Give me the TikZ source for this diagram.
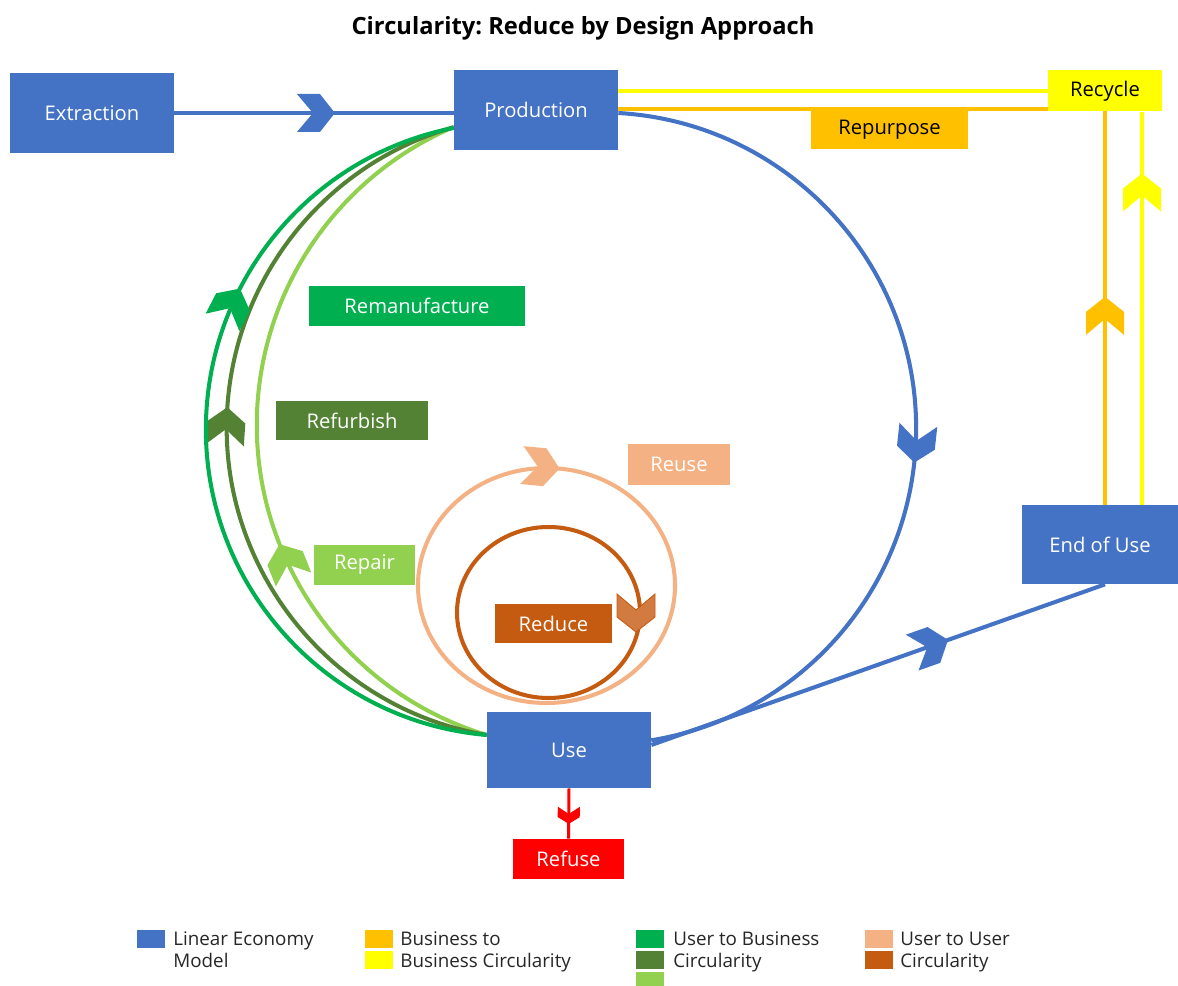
\documentclass[tikz,border=0pt]{standalone}
\usepackage{fontspec}
\setmainfont{Open Sans}
\usepackage{tikz}
\usetikzlibrary{positioning}
\usetikzlibrary{calc,decorations.markings}
\definecolor{linblue}{HTML}{4472C4}
\definecolor{bizorange}{HTML}{FFC000}
\definecolor{bizyellow}{HTML}{FFFF00}
\definecolor{ubgreen}{HTML}{00B050}
\definecolor{ubdark}{HTML}{548235}
\definecolor{ublight}{HTML}{92D050}
\definecolor{uuorange}{HTML}{F4B183}
\definecolor{uubrown}{HTML}{C55A11}
\definecolor{refred}{HTML}{FF0000}
\pgfdeclarelayer{bg}
\pgfsetlayers{bg,main}
\frenchspacing
\tikzset{
  blk/.style={fill=#1, text=white, inner sep=0pt, font=\fontsize{11.5}{13}\selectfont},
  legtxt/.style={anchor=base west, inner sep=0pt, text=black!85, font=\fontsize{10.7}{13}\selectfont},
  flow/.style={color=#1, line width=2.3pt},
  chev/.style={postaction={decorate, decoration={markings,
    mark=at position #1 with {\fill (0,0) -- (-15,-19) -- (-38,-19) -- (-22,0) -- (-38,19) -- (-15,19) -- cycle;}}}},
  smallchev/.style={postaction={decorate, decoration={markings,
    mark=at position #1 with {\fill[xscale=0.45, yscale=0.58] (0,0) -- (-15,-19) -- (-38,-19) -- (-22,0) -- (-38,19) -- (-15,19) -- cycle;}}}}
}

\begin{document}
\begin{tikzpicture}[x=0.02cm, y=-0.02cm]
\useasboundingbox (0,0) rectangle (1178,986);

% ================= Title =================
\node[font=\fontsize{13.5}{15}\selectfont\bfseries] (title) at (583,28) {Circularity: Reduce by Design Approach};

% ================= Linear economy =================
\node[blk=linblue, minimum width=3.28cm, minimum height=1.6cm] (extr) at (92,113) {Extraction};
\node[blk=linblue, minimum width=3.28cm, minimum height=1.6cm] (prod) at (536,110) {Production};
\node[blk=linblue, minimum width=3.28cm, minimum height=1.52cm] (use) at (569,750) {Use};
\node[blk=linblue, minimum width=3.12cm, minimum height=1.58cm] (eou) at (1100,544.5) {End of Use};
\node[blk=refred, minimum width=2.22cm, minimum height=0.8cm] (refuse) at (568.5,859) {Refuse};

% ================= Business to business =================
\node[blk=bizyellow, text=black, minimum width=2.28cm, minimum height=0.82cm] (recyc) at (1105,91) {Recycle};
\node[blk=bizorange, text=black, minimum width=3.14cm, minimum height=0.76cm] (repur) at (889.5,130) {Repurpose};

% ================= User to business =================
\node[blk=ubgreen, minimum width=4.32cm, minimum height=0.8cm] (reman) at (417,306) {Remanufacture};
\node[blk=ubdark, minimum width=3.04cm, minimum height=0.78cm] (refurb) at (352,420.5) {Refurbish};
\node[blk=ublight, minimum width=2.02cm, minimum height=0.8cm] (repair) at (364.5,565) {Repair};

% ================= User to user =================
\node[blk=uuorange, minimum width=2.04cm, minimum height=0.82cm] (reuse) at (679,464.5) {Reuse};
\node[blk=uubrown, minimum width=2.34cm, minimum height=0.78cm] (reduce) at (553.5,623.5) {Reduce};

\begin{pgfonlayer}{bg}
% linear flow
\draw[flow=linblue, chev=0.575] (extr.east) -- (extr.east -| prod.west);
\draw[flow=linblue, chev=0.555] (prod.east) ++(0,3) arc[start angle=-86.7, end angle=80.7, radius=316];
\draw[flow=linblue, chev=0.654] (use.east) ++(0,-5) -- ($(eou.south)+(5,0)$);
\draw[flow=refred, line width=1.7pt, smallchev=0.706] (use.south) -- (refuse.north);

% recycle / repurpose
\draw[flow=bizorange, chev=0.2355] ($(eou.north)+(5,0)$) |- ($(prod.east)+(0,-1)$);
\draw[flow=bizyellow, chev=0.843] ($(eou.north)+(42,0)$) -- ($(recyc.south)+(37,0)$);
\draw[flow=bizyellow] (recyc.west) -- (recyc.west -| prod.east);

% back to production
\draw[flow=ublight, chev=0.368] (use.west) ++(0,-15) arc[start angle=106.9, end angle=246.9, radius=324];
\draw[flow=ubdark, chev=0.544] (use.west) ++(0,-15) arc[start angle=99.6, end angle=254.2, radius=312];
\draw[flow=ubgreen, chev=0.685] (use.west) ++(0,-15) arc[start angle=94.9, end angle=258.9, radius=307];

% inner loops
\draw[flow=uuorange, chev=0.767] (546.5,585.5) ellipse[x radius=128.5, y radius=117.5];
\draw[flow=uubrown] (548.5,612.5) ellipse[x radius=91.5, y radius=85.5];
\end{pgfonlayer}

% reduce arrow head
\filldraw[fill=uubrown!80!white, draw=uubrown, line width=0.5pt]
  (636,632) -- (617,617) -- (617,594) -- (636,610) -- (655,594) -- (655,617) -- cycle;

% ================= Legend =================
\foreach \x/\y/\c in {137/930/linblue, 365/930/bizorange, 365/951/bizyellow,
  636/930/ubgreen, 636/951/ubdark, 865/930/uuorange, 865/951/uubrown}{
  \fill[\c] (\x,\y) rectangle ++(28,18);
}
\fill[ublight] (636,972) rectangle (664,986);

\foreach \x/\y/\t [count=\i] in {173/946/Linear Economy, 173/968/Model,
  400/946/Business to, 400/968/Business Circularity,
  673/946/User to Business, 673/968/Circularity,
  900/946/User to User, 900/968/Circularity}{
  \node[legtxt] (leg\i) at (\x,\y) {\t};
}
\end{tikzpicture}
\end{document}
